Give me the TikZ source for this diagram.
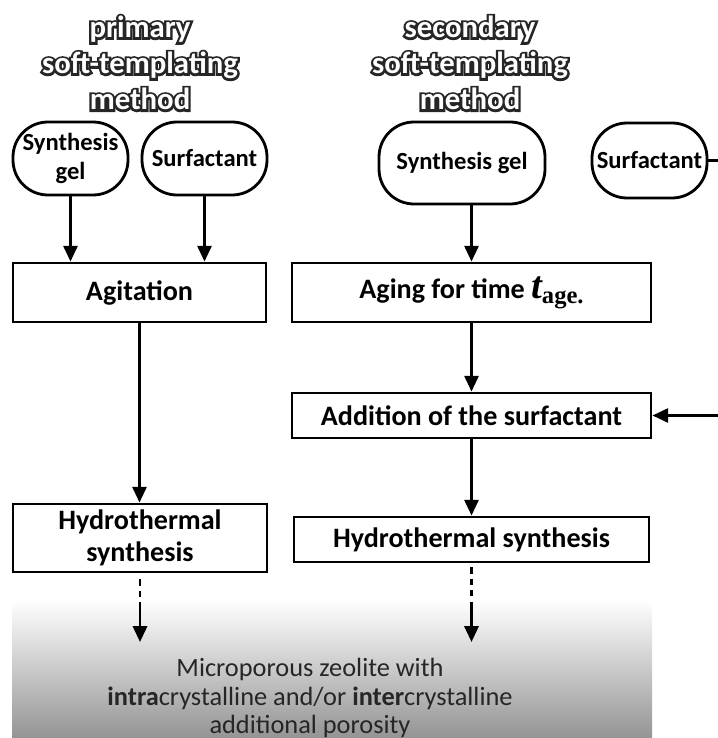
\documentclass[tikz,border=0pt]{standalone}
\usepackage{fontspec}
\setmainfont{Carlito}
\newfontfamily\serifbf{Liberation Serif}
\newfontfamily\headstroke{Carlito}[FakeBold=15]
\usetikzlibrary{arrows.meta}

\begin{document}
\begin{tikzpicture}[
    box/.style={draw=black, line width=1.6pt, inner sep=0pt, align=center, font=\bfseries\fontsize{16}{18}\selectfont},
    pill/.style={box, rounded corners=0.7cm, font=\bfseries\fontsize{14}{16}\selectfont},
    flow/.style={line width=1.6pt, -{Triangle[width=8pt,length=9pt]}},
    heading/.style={align=center, text=white, font=\bfseries\fontsize{17.5}{20.5}\selectfont},
    headline/.style={align=center, text=black!85, font=\headstroke\bfseries\fontsize{17.5}{20.5}\selectfont}
]
    \useasboundingbox (0,0) rectangle (14.34,-14.76);
    \shade[top color=white, bottom color=black!42] (0.24,-12.0) rectangle (13.04,-14.76);

    % headings (outlined letters)
    \node[headline] (line1) at (2.80,-1.26) {primary\\soft-templating\\method};
    \node[heading] (head1) at (2.80,-1.26) {primary\\soft-templating\\method};
    \node[headline] (line2) at (9.40,-1.26) {secondary\\soft-templating\\method};
    \node[heading] (head2) at (9.40,-1.26) {secondary\\soft-templating\\method};

    % primary method
    \node[pill, minimum width=2.30cm, minimum height=1.46cm] (gel1) at (1.41,-3.17) {Synthesis\\gel};
    \node[pill, minimum width=2.50cm, minimum height=1.46cm] (surf1) at (4.09,-3.17) {Surfactant};
    \node[box, minimum width=5.06cm, minimum height=1.18cm] (agit) at (2.79,-5.85) {Agitation};
    \node[box, minimum width=5.08cm, minimum height=1.36cm] (hydro1) at (2.80,-10.76) {Hydrothermal\\synthesis};

    % secondary method
    \node[pill, minimum width=3.32cm, minimum height=1.64cm] (gel2) at (9.24,-3.26) {Synthesis gel};
    \node[pill, minimum width=2.30cm, minimum height=1.50cm] (surf2) at (12.99,-3.21) {Surfactant};
    \node[box, minimum width=7.18cm, minimum height=1.18cm] (aging) at (9.43,-5.85)
        {Aging for time {\serifbf\bfseries\itshape\fontsize{22}{22}\selectfont t}\raisebox{-0.35ex}{\serifbf\bfseries\fontsize{14}{14}\selectfont age.}};
    \node[box, minimum width=7.18cm, minimum height=0.90cm] (addn) at (9.43,-8.31) {Addition of the surfactant};
    \node[box, minimum width=7.10cm, minimum height=0.90cm] (hydro2) at (9.43,-10.79) {Hydrothermal synthesis};

    \node[align=center, text=black!85, font=\fontsize{15}{16.2}\selectfont] (result) at (6.2,-13.96)
        {Microporous zeolite with\\\textbf{intra}crystalline and/or \textbf{inter}crystalline\\additional porosity};

    \coordinate (dash1) at (2.80,-12.16);
    \coordinate (tip1) at (2.80,-12.84);
    \coordinate (dash2) at (9.43,-12.16);
    \coordinate (tip2) at (9.43,-12.84);

    \draw[flow] (gel1.south) -- (gel1.south |- agit.north);
    \draw[flow] (surf1.south) -- (surf1.south |- agit.north);
    \draw[flow] (agit.south) -- (agit.south |- hydro1.north);
    \draw[flow] (aging.north |- gel2.south) -- (aging.north);
    \draw[flow] (aging.south) -- (addn.north);
    \draw[flow] (addn.south) -- (hydro2.north);
    \draw[flow] (surf2.east) -- ++(0.6,0) |- (addn.east);

    \draw[line width=1.6pt, dash pattern=on 3.5pt off 3pt, shorten <=0.12cm] (hydro1.south) -- (dash1);
    \draw[flow] (dash1) -- (tip1);
    \draw[line width=1.6pt, dash pattern=on 3.5pt off 3pt, shorten <=0.08cm] (hydro2.south) -- (dash2);
    \draw[flow] (dash2) -- (tip2);
\end{tikzpicture}
\end{document}
